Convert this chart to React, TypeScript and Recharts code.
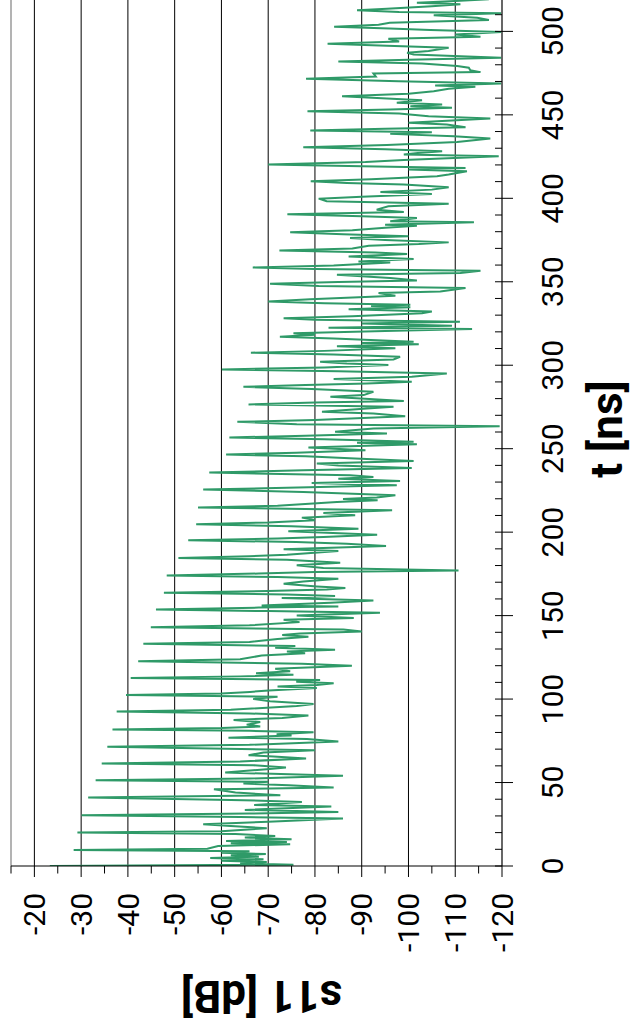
import React from 'react';
import { LineChart, Line, XAxis, YAxis, CartesianGrid, ReferenceLine, Label } from 'recharts';

// Reflection trace s11 [dB] versus time t [ns], stored as [t, dB] pairs per time span.
const TRACE_0_100: [number, number][] = [
  [0, -23.3], [0.8, -75.4], [1.6, -64], [2.4, -69.7], [3.2, -60], [4, -69], [4.8, -57.6], [5.6, -68], [6.4, -62], [7.2, -69.5], [8, -60], [8.8, -66],
  [9.6, -28.4],
  [10.4, -57], [12, -59.3], [13, -74.7], [13.7, -62], [14.4, -74], [15, -61], [16, -75], [17, -65], [18, -71.5], [19.2, -63],
  [20, -29.2],
  [20.8, -60], [22.6, -69.7], [24, -62], [25, -56.1], [26.5, -70], [28.4, -86], [29.4, -64],
  [30.4, -30.1],
  [31.4, -66], [32.4, -85], [33.6, -65], [35.6, -83.5], [36.6, -67], [38.4, -77.2], [39.6, -62],
  [41, -31.5],
  [42.4, -72.6], [44, -63], [46, -58.4], [47, -84], [48.4, -74.4], [49.4, -64.7], [50.4, -70],
  [51.4, -33.1],
  [52.4, -66], [54, -86], [56, -60.8], [58, -69.7], [59, -73.8], [60.4, -66.8],
  [61.4, -34.4],
  [62.6, -64], [64.4, -78.1], [65.6, -71.1], [66.4, -65.8], [68, -69], [69.4, -80],
  [71.4, -35.6],
  [72.6, -66], [74.6, -85], [76.1, -78.3], [76.9, -61.5], [78.2, -75], [78.9, -71.8], [80.1, -79.7], [81, -66],
  [81.7, -36.7],
  [82.6, -60], [83.6, -68.3], [84.7, -65.4], [86.2, -68.3], [87.5, -62.6], [88.7, -73], [90.1, -78.6], [91.4, -66],
  [92.5, -37.6],
  [93.6, -62], [95.9, -76.1], [97.1, -79.7], [98.7, -70.4], [100.1, -66.8], [101.4, -72],
];

const TRACE_100_200: [number, number][] = [
  [102.5, -39.6],
  [103.4, -60], [104.3, -66.1], [105.1, -70.1], [106.7, -80.4], [107.6, -72], [108.4, -80.4], [109.5, -84], [110.4, -76], [111.5, -81.1],
  [112.7, -40.6],
  [113.6, -64], [114.5, -75.4], [115.5, -67.4], [116.7, -74.7], [118.1, -71.5], [119.9, -87.9], [121.1, -77.2],
  [122.7, -42.2],
  [123.8, -64], [126.1, -68.6], [127.5, -77.9], [128.5, -74], [129.5, -84.3], [130.7, -71.5], [131.8, -75.8],
  [133.1, -43.3],
  [134.2, -66], [136, -72], [137.4, -78.6], [138.4, -73], [139.3, -76.8], [140.5, -90], [141.7, -86.1],
  [143.1, -44.9],
  [144.2, -66], [146.1, -76.7], [147.5, -73.3], [148.5, -88.3], [150.1, -76.1], [151.7, -93.9], [152.7, -70],
  [153.7, -46],
  [154.8, -68], [155.5, -85], [156.1, -68.6], [157.7, -83.3], [159.1, -92.5], [160.5, -72.9], [161.7, -84.3], [162.7, -74],
  [163.7, -47.7],
  [164.8, -70], [165.6, -82.5], [166.5, -86.5], [167.5, -80.4], [169.1, -73.3], [170.5, -77.5], [172.1, -85], [173.1, -72],
  [174.1, -48.3],
  [175.2, -68], [176.2, -80], [177.1, -110.7], [178.5, -81.8], [180.1, -76.1], [181.7, -85.4], [183.4, -74],
  [184.5, -50.8],
  [185.6, -66], [186.5, -74], [188.7, -85], [189.7, -73.3], [191.7, -95.2], [193.1, -86.8], [194.1, -76],
  [195.1, -52.9],
  [196.2, -72], [197.1, -81.8], [198.5, -93.3], [199.7, -82.5], [200.5, -74.3], [202.1, -89.3], [203.5, -75],
];

const TRACE_200_300: [number, number][] = [
  [204.7, -54.6],
  [205.8, -70], [207.2, -80], [208.7, -77.2], [210.1, -88.6], [211.5, -81.8], [213.1, -96.5], [213.9, -78],
  [214.7, -55],
  [215.8, -72], [218.1, -84.7], [219.1, -93.4], [219.9, -86], [220.7, -93.2], [222.1, -97.2], [224.1, -77.5],
  [225.5, -56.1],
  [226.6, -74], [228.1, -97.5], [229.5, -79.3], [230.7, -98.2], [232, -85], [233.1, -92.5], [234.1, -87.5],
  [235.7, -57.4],
  [237.1, -77.5], [238.5, -100.7], [240, -85], [241.1, -80.4], [242.7, -101.1], [244.1, -88.6], [245.4, -78],
  [246.5, -61],
  [247.6, -76], [249.1, -90.8], [250.7, -78.6], [252.7, -101.8], [253.5, -89], [254.1, -101.1], [255.6, -82],
  [256.7, -61.7],
  [257.8, -78], [259.1, -95.4], [260.1, -84.3], [262.1, -92.5], [263.5, -119.5], [264.7, -76.1],
  [266.1, -63.4],
  [267.2, -80], [269.5, -99.3], [271.1, -92.5], [272.1, -81.5], [274.1, -91.1], [275.1, -96.8],
  [276.5, -65.8],
  [277.6, -80], [278.5, -99], [281.1, -83.3], [282.1, -90.4], [284.1, -92.5], [285.7, -79.3],
  [287.1, -64.7],
  [288.2, -78], [289.1, -91.1], [290.1, -100.7], [291.7, -84], [293.1, -100.7], [295.1, -108.2], [296.4, -85],
  [297.5, -60.1],
  [298.6, -82], [300.1, -95.7], [301.1, -86.8], [302.1, -81.1], [303.5, -96.8], [305.1, -98.2], [306.4, -84],
];

const TRACE_300_400: [number, number][] = [
  [307.5, -66.3],
  [308.6, -82], [310.1, -97.2], [311.3, -84.7], [312.5, -102.2], [313.3, -90], [314.1, -101.1], [316, -84],
  [317.1, -72.5],
  [318.2, -80], [319.1, -75.4], [320.5, -95], [321.7, -113.6], [322.5, -82.9], [323.7, -109.3], [325, -90], [326.1, -111], [327.2, -80],
  [328.2, -73.3],
  [329.4, -88], [331.2, -102.9], [332.2, -105], [333.6, -87.2], [334.8, -100.4], [335.5, -92], [336.2, -100.4], [337.2, -82],
  [338.2, -70],
  [339.6, -79], [341.6, -97.2], [343.2, -93.6], [344.2, -106.8], [346.2, -112.2], [347.4, -80.8],
  [348.8, -70.4],
  [349.8, -85], [350.8, -101.8], [352.2, -96.1], [354.2, -84.7], [355.2, -111.1], [356.6, -115.4], [357.6, -80],
  [358.6, -66.7],
  [359.8, -84], [361.6, -96.1], [362.2, -89.3], [363.6, -101.1], [365.2, -87.2], [366.6, -99.7], [367.6, -92.9],
  [368.8, -72.4],
  [370, -88], [371.6, -91.5], [372.6, -102.2], [373.6, -108.6], [375, -95], [376.2, -87.5], [377.2, -100], [378.4, -86],
  [379.6, -74.7],
  [380.8, -88], [382.4, -95], [383.6, -101.8], [384.2, -95], [385.6, -114], [386.2, -96.1], [388.2, -101.8], [389.2, -90],
  [390.4, -74.1],
  [391.8, -99], [393.2, -93.2], [395.2, -95.7], [396.8, -108.6], [398.2, -82.5],
];

const TRACE_400_520: [number, number][] = [
  [399.8, -80.8],
  [401, -90], [402.6, -105], [403.8, -94], [405.2, -105], [406.6, -108.6], [408.2, -99], [409.2, -86.8],
  [410.2, -79.1],
  [411.4, -92], [413.2, -106.1], [414.2, -108.6], [416.2, -112.5], [417.2, -100], [418.2, -112.2], [419.2, -90],
  [420.2, -70],
  [421.8, -90.8], [423, -99], [425.2, -119.3], [426.2, -99], [427.2, -102], [428.2, -107.2], [429.4, -95],
  [430.6, -77.5],
  [432, -95.4], [433.8, -110.4], [435.8, -117.5], [437.2, -109.7], [438.6, -96.1], [439.6, -105],
  [440.6, -79],
  [441.6, -95], [442.6, -112.2], [444.2, -108.2], [445.2, -100], [447.8, -117.5], [449.2, -104.3], [450.8, -98],
  [452.2, -78.4],
  [453.2, -96.1], [454.2, -109.3], [455.2, -100.4], [456.2, -107.2], [457.2, -97.5], [458.8, -102.9], [459.8, -95.4],
  [461.2, -85.8],
  [462.6, -100], [464.2, -105.4], [465.6, -108.6], [466.8, -114.3], [467.6, -105.7], [468.8, -119.8], [470.2, -97.9],
  [471.6, -78.1],
  [473, -93], [474.8, -92.5], [475.6, -115.4], [476.8, -113.2], [478.2, -112.9], [479.2, -110.4], [480.8, -102.9],
  [482, -85],
  [483, -100], [484.2, -119.8], [486.2, -101.1], [487.2, -99.7], [488.2, -104.3], [490.2, -108.6], [491.4, -95.4],
  [492.6, -82.7],
  [494, -98], [495.6, -95.7], [496.8, -115.4], [498.2, -110], [499.6, -119.8], [500.8, -104.7], [501.8, -96],
  [502.8, -84.1],
  [504, -93.6], [505.2, -96], [506.8, -117.2], [508.2, -114.7], [509.6, -105.4], [510.8, -119.8], [511.6, -98],
  [512.6, -89],
  [513.6, -95.4], [515, -105], [516.2, -111.1], [517.2, -101.8], [518.2, -110], [519.2, -117.2], [520, -102.5],
];

// Axis labels and tick positions
const TIME_LABELS = [0, 50, 100, 150, 200, 250, 300, 350, 400, 450, 500];
const TIME_TICKS = Array.from({ length: 53 }, (_, i) => i * 10);
const LEVEL_LABELS = [-20, -30, -40, -50, -60, -70, -80, -90, -100, -110, -120];
const LEVEL_TICKS = Array.from({ length: 22 }, (_, i) => -120 + i * 5);
const LEVEL_GRID = [-20, -30, -40, -50, -60, -70, -80, -90, -100, -110];

const data = [...TRACE_0_100, ...TRACE_100_200, ...TRACE_200_300, ...TRACE_300_400, ...TRACE_400_520].map(
  ([t, v]) => ({ t, s11: v })
);

const FONT = "Roboto, 'Liberation Sans', Arial, sans-serif";
const TRACE_COLOR = '#2f9a68';

const textStyle = (size: number, bold = false): React.CSSProperties => ({
  fontFamily: FONT,
  fontSize: size,
  fontWeight: bold ? 700 : 400,
});

const TimeTick = (props: any) => {
  const { x, y, payload } = props;
  const v = payload.value as number;
  const major = TIME_LABELS.includes(v);
  return (
    <g>
      <line x1={x} x2={x} y1={y - 7} y2={major ? y + 11 : y} stroke="#000" strokeWidth={1} />
      {major && (
        <text x={x} y={y + 61} textAnchor="middle" style={textStyle(30)} fill="#000">
          {v}
        </text>
      )}
    </g>
  );
};

const LevelTick = (props: any) => {
  const { x, y, payload } = props;
  const v = payload.value as number;
  const major = LEVEL_LABELS.includes(v);
  return (
    <g>
      <line x1={x - (major ? 11 : 7.5)} x2={x} y1={y} y2={y} stroke="#000" strokeWidth={1} />
      {major && (
        <text x={x - 27} y={y} dy="0.355em" textAnchor="end" style={textStyle(30)} fill="#000">
          {v}
        </text>
      )}
    </g>
  );
};

const LevelTitle = (props: any) => {
  const vb = props.viewBox || {};
  const cx = vb.x - 15;
  const cy = vb.y + vb.height / 2 + 5;
  return (
    <text
      x={cx}
      y={cy}
      transform={`rotate(-90, ${cx}, ${cy})`}
      textAnchor="middle"
      style={textStyle(44, true)}
      fill="#000"
    >
      s11 [dB]
    </text>
  );
};

const TimeTitle = (props: any) => {
  const vb = props.viewBox || {};
  const cx = vb.x + vb.width / 2 + 3;
  const cy = vb.y + 120;
  return (
    <text x={cx} y={cy} textAnchor="middle" style={textStyle(44, true)} fill="#000">
      t [ns]
    </text>
  );
};

export default function App() {
  return (
    <div
      style={{
        position: 'absolute',
        left: 0,
        top: 0,
        width: 638,
        height: 1034,
        overflow: 'hidden',
        background: '#fff',
        fontFamily: FONT,
      }}
    >
      {/* chart drawn landscape, then turned a quarter turn counter-clockwise */}
      <div
        style={{
          position: 'absolute',
          left: 0,
          top: 0,
          width: 1036,
          height: 638,
          transformOrigin: '0 0',
          transform: 'translate(0px, 1034px) rotate(-90deg)',
        }}
      >
        <LineChart width={1036} height={638} data={data} margin={{ top: 11, right: 0, bottom: 76, left: 68 }}>
          <CartesianGrid horizontal vertical={false} horizontalValues={LEVEL_GRID} stroke="#000" strokeWidth={1} />
          <ReferenceLine y={-15} stroke="#9a9a9a" strokeWidth={1.5} />
          <XAxis
            dataKey="t"
            type="number"
            domain={[0, 520]}
            ticks={TIME_TICKS}
            interval={0}
            allowDataOverflow
            height={60}
            tickLine={false}
            tickSize={0}
            tickMargin={0}
            axisLine={{ stroke: '#000', strokeWidth: 1.2 }}
            tick={(p: any) => <TimeTick {...p} />}
          >
            <Label content={(p: any) => <TimeTitle {...p} />} />
          </XAxis>
          <YAxis
            type="number"
            domain={[-120, -15]}
            ticks={LEVEL_TICKS}
            interval={0}
            allowDataOverflow
            width={100}
            tickLine={false}
            tickSize={0}
            tickMargin={0}
            axisLine={{ stroke: '#000', strokeWidth: 1.2 }}
            tick={(p: any) => <LevelTick {...p} />}
          >
            <Label content={(p: any) => <LevelTitle {...p} />} />
          </YAxis>
          <Line
            type="linear"
            dataKey="s11"
            stroke={TRACE_COLOR}
            strokeWidth={2}
            dot={false}
            activeDot={false}
            isAnimationActive={false}
          />
        </LineChart>
      </div>
    </div>
  );
}
